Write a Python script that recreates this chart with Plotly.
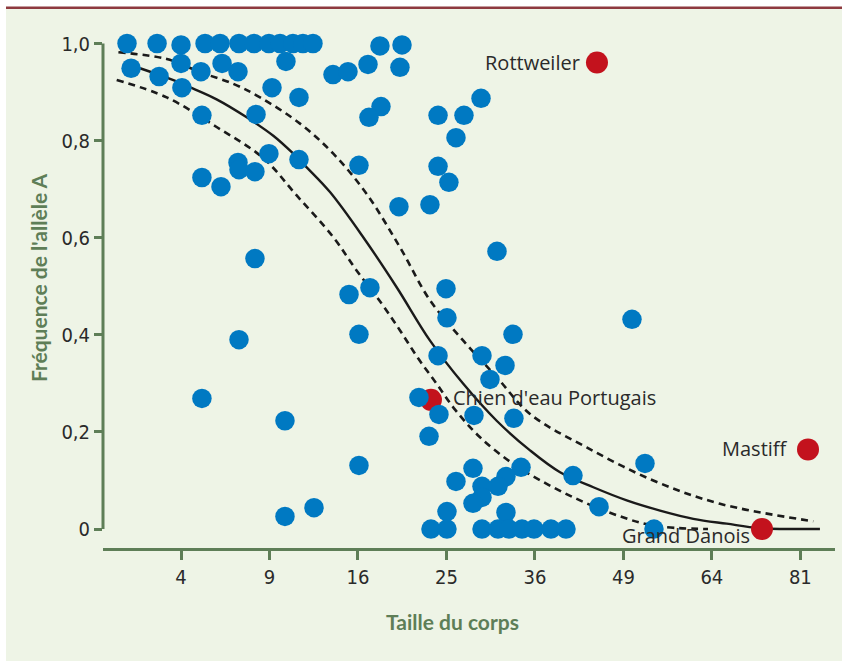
import numpy as np
import plotly.graph_objects as go

# --- Races (taille du corps, fréquence de l'allèle A) ---
taille = [
    1.93, 2.99, 4.0, 5.16, 5.96, 7.05, 7.98, 8.96, 9.73, 10.66, 11.41, 12.19, 18.05, 20.23,
    2.06, 3.07, 4.0, 4.04, 4.95, 6.07, 6.99, 10.15, 9.17, 11.11,
    5.0, 8.11, 8.96, 11.11, 6.99, 7.05, 8.04, 5.0, 6.01,
    13.82, 15.11, 16.92, 20.02, 18.15, 17.01, 24.06, 27.02, 29.06, 26.09,
    16.09, 24.06, 25.28, 19.92, 23.17, 31.04, 8.04,
    15.20, 17.10, 24.95, 25.06, 16.09, 33.09, 7.05, 24.06, 29.18, 32.06, 30.16,
    21.99, 24.16, 28.21, 33.21, 5.0, 10.08, 23.07, 16.09, 10.08, 12.27,
    41.35, 45.22, 50.37, 52.48, 53.96,
    28.09, 26.09, 34.14, 32.18, 29.18, 31.17, 29.18, 28.09, 25.06, 32.18,
    23.28, 25.06, 29.18, 31.17, 32.57, 34.27, 35.88, 38.21, 40.34,
]
frequence = [
    1.0, 1.0, 0.997, 1.0, 1.0, 1.0, 1.0, 1.0, 1.0, 1.0, 1.0, 1.0, 0.995, 0.997,
    0.949, 0.932, 0.959, 0.909, 0.942, 0.959, 0.942, 0.963, 0.909, 0.889,
    0.852, 0.854, 0.773, 0.761, 0.755, 0.740, 0.736, 0.724, 0.705,
    0.936, 0.942, 0.957, 0.951, 0.870, 0.848, 0.852, 0.852, 0.887, 0.806,
    0.749, 0.747, 0.714, 0.664, 0.668, 0.572, 0.557,
    0.483, 0.497, 0.495, 0.435, 0.401, 0.401, 0.390, 0.357, 0.357, 0.337, 0.308,
    0.271, 0.236, 0.234, 0.228, 0.269, 0.223, 0.191, 0.131, 0.026, 0.044,
    0.110, 0.046, 0.432, 0.135, 0.0,
    0.125, 0.098, 0.127, 0.108, 0.088, 0.088, 0.065, 0.053, 0.036, 0.034,
    0.0, 0.0, 0.0, 0.0, 0.0, 0.0, 0.0, 0.0, 0.0,
]

# --- Races nommées ---
races_noms = ["Rottweiler", "Chien d'eau Portugais", "Mastiff", "Grand Danois"]
races_taille = [44.91, 23.28, 82.57, 73.39]
races_freq = [0.961, 0.266, 0.164, 0.0]

# --- Courbe ajustée et intervalle ---
fit_taille = [2.36, 3.52, 4.57, 5.77, 7.52, 9.26, 10.69, 11.70, 13.57, 16.48, 19.69,
              23.18, 26.94, 31.00, 35.34, 39.49, 44.36, 49.53, 54.97, 60.69, 66.71,
              73.00, 85.04]
fit_freq = [0.949, 0.927, 0.907, 0.885, 0.848, 0.810, 0.773, 0.745, 0.694, 0.601, 0.498,
            0.388, 0.299, 0.223, 0.162, 0.117, 0.086, 0.059, 0.038, 0.021, 0.011,
            0.002, 0.0]
haut_taille = [1.67, 3.38, 4.90, 6.71, 8.37, 11.19, 13.85, 16.80, 20.03, 23.18, 26.94,
               31.00, 35.34, 43.37, 53.85, 65.48, 83.66]
haut_freq = [0.982, 0.968, 0.941, 0.917, 0.889, 0.835, 0.773, 0.690, 0.580, 0.471, 0.388,
             0.313, 0.237, 0.168, 0.100, 0.052, 0.016]
bas_taille = [1.62, 3.38, 5.77, 8.58, 10.94, 13.85, 15.89, 18.22, 20.03, 21.92, 23.91,
              25.98, 28.94, 33.13, 37.62, 42.38, 47.42, 53.85, 63.31]
bas_freq = [0.925, 0.889, 0.828, 0.764, 0.687, 0.601, 0.532, 0.464, 0.409, 0.351, 0.299,
            0.246, 0.189, 0.134, 0.093, 0.059, 0.031, 0.007, 0.0]

x_ticks = [4, 9, 16, 25, 36, 49, 64, 81]
y_ticks = [0, 0.2, 0.4, 0.6, 0.8, 1.0]
y_labels = ["0", "0,2", "0,4", "0,6", "0,8", "1,0"]

BLEU = "#0079C2"
ROUGE = "#C3121D"
VERT = "#5E7E57"
FOND = "#EEF4E6"
TEXTE = "#2A2A2A"
TICK_FONT = "DejaVu Sans Condensed, Liberation Sans Narrow, DejaVu Sans, sans-serif"
LABEL_FONT = "Open Sans, Lato, sans-serif"
TITLE_FONT = "Lato, Open Sans, sans-serif"

sq = np.sqrt  # axe horizontal en racine carrée de la taille

fig = go.Figure()

fig.add_trace(go.Scatter(x=sq(haut_taille), y=haut_freq, mode="lines", line_shape="spline",
                         line=dict(color="#1a1a1a", width=2.6, dash="7px,5px"), hoverinfo="skip"))
fig.add_trace(go.Scatter(x=sq(bas_taille), y=bas_freq, mode="lines", line_shape="spline",
                         line=dict(color="#1a1a1a", width=2.6, dash="7px,5px"), hoverinfo="skip"))
fig.add_trace(go.Scatter(x=sq(fit_taille), y=fit_freq, mode="lines", line_shape="spline",
                         line=dict(color="#1a1a1a", width=2.4), hoverinfo="skip"))
fig.add_trace(go.Scatter(x=sq(races_taille), y=races_freq, mode="markers",
                         marker=dict(color=ROUGE, size=22, line=dict(width=0))))
fig.add_trace(go.Scatter(x=sq(taille), y=frequence, mode="markers",
                         marker=dict(color=BLEU, size=19.5, line=dict(width=0))))

# étiquettes des races nommées
label_pos = {
    "Rottweiler": dict(xanchor="right", xshift=-15, yshift=0),
    "Chien d'eau Portugais": dict(xanchor="left", xshift=20, yshift=2),
    "Mastiff": dict(xanchor="right", xshift=-18, yshift=1),
    "Grand Danois": dict(xanchor="right", xshift=-10, yshift=-6),
}
for nom, t, f in zip(races_noms, races_taille, races_freq):
    p = label_pos[nom]
    fig.add_annotation(x=sq(t), y=f, text=nom, showarrow=False, xanchor=p["xanchor"],
                       yanchor="middle", xshift=p["xshift"], yshift=p["yshift"],
                       font=dict(family=LABEL_FONT, size=20, color=TEXTE))

# titres d'axes
fig.add_annotation(xref="paper", yref="paper", x=0.478, y=-0.1396, text="<b>Taille du corps</b>",
                   showarrow=False, xanchor="center", yanchor="middle",
                   font=dict(family=TITLE_FONT, size=21, color=VERT))
fig.add_annotation(xref="paper", yref="paper", x=-0.0888, y=0.518,
                   text="<b>Fréquence de l'allèle A</b>", textangle=-90,
                   showarrow=False, xanchor="center", yanchor="middle",
                   font=dict(family=TITLE_FONT, size=21, color=VERT))

# fond vert clair, filet rouge en haut, axe vertical de 0 à 1
fig.add_shape(type="rect", xref="paper", yref="paper", x0=-0.1325, x1=1.01, y0=-0.22, y1=1.0306,
              fillcolor=FOND, line=dict(width=0), layer="below")
fig.add_shape(type="rect", xref="paper", yref="paper", x0=-0.1325, x1=1.01, y0=1.0306, y1=1.0354,
              fillcolor="#8E3A3F", line=dict(width=0), layer="below")
fig.add_shape(type="line", xref="paper", yref="y", x0=0, x1=0, y0=0, y1=1,
              line=dict(color=VERT, width=3), layer="below")

fig.update_layout(
    width=842, height=661,
    margin=dict(l=103, r=7, t=25, b=113),
    paper_bgcolor="white", plot_bgcolor="rgba(0,0,0,0)",
    showlegend=False,
    xaxis=dict(range=[1.118, 9.392], tickvals=sq(x_ticks), ticktext=[str(v) for v in x_ticks],
               showgrid=False, zeroline=False, showline=True, linecolor=VERT, linewidth=3,
               ticks="outside", ticklen=9, tickwidth=3, tickcolor=VERT,
               tickfont=dict(family=TICK_FONT, size=20, color=TEXTE)),
    yaxis=dict(range=[-0.0391, 1.0381], tickvals=y_ticks, ticktext=y_labels,
               showgrid=False, zeroline=False, showline=False,
               ticks="outside", ticklen=8, tickwidth=3, tickcolor=VERT,
               tickfont=dict(family=TICK_FONT, size=20, color=TEXTE)),
)

fig.write_html("out.html")
